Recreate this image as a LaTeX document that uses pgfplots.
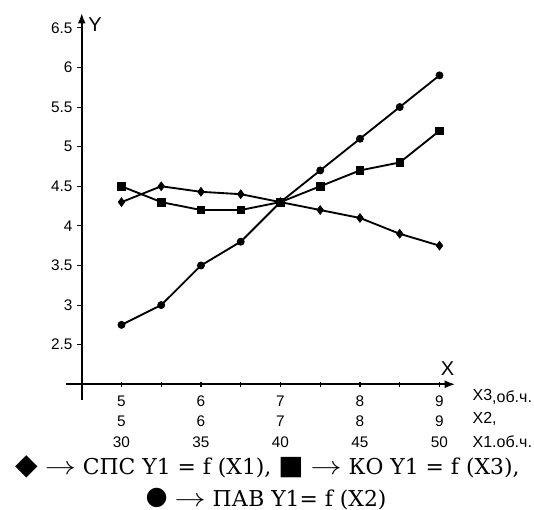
\documentclass[border=0pt]{standalone}
\usepackage{pgfplots}
\pgfplotsset{compat=1.18}
\usepackage{fontspec}
\setmainfont{Liberation Sans}
\newfontfamily\legfont{DejaVu Serif}
\newfontfamily\symfont{DejaVu Sans}
\usetikzlibrary{arrows.meta}
\newcommand{\arr}{\scalebox{1.35}[1.1]{$\rightarrow$}}

\begin{document}
\begin{tikzpicture}
\begin{axis}[
 x=59.625pt, y=59.4pt,
 xmin=4.5, xmax=9.2, ymin=2, ymax=6.7,
 axis lines=left,
 axis line style={draw=none},
 clip=false,
 xtick={5,5.5,...,9},
 xticklabels={{5\\5\\30},{},{6\\6\\35},{},{7\\7\\40},{},{8\\8\\45},{},{9\\9\\50}},
 ytick={2.5,3,...,6.5},
 yticklabels={2.5,3,3.5,4,4.5,5,5.5,6,6.5},
 tick align=outside,
 major tick length=3.5pt,
 tick style={black, line width=0.8pt},
 x tick style={yshift=1.75pt},
 xticklabel style={align=center, font=\fontsize{11.5}{15.4}\selectfont, anchor=north, yshift=-1.5pt},
 yticklabel style={font=\fontsize{11.5}{12}\selectfont},
 /pgf/number format/assume math mode=true,
]
\addplot[black, line width=1.4pt, mark=diamond*, mark size=3.3pt, mark options={solid, line width=0.5pt}]
 coordinates {(5,4.3)(5.5,4.5)(6,4.43)(6.5,4.4)(7,4.3)(7.5,4.2)(8,4.1)(8.5,3.9)(9,3.75)};
\addplot[black, line width=1.4pt, mark=square*, mark size=2.8pt, mark options={solid, line width=0.5pt}]
 coordinates {(5,4.5)(5.5,4.3)(6,4.2)(6.5,4.2)(7,4.3)(7.5,4.5)(8,4.7)(8.5,4.8)(9,5.2)};
\addplot[black, line width=1.4pt, mark=*, mark size=2.7pt, mark options={solid, line width=0.5pt}]
 coordinates {(5,2.75)(5.5,3.0)(6,3.5)(6.5,3.8)(7,4.3)(7.5,4.7)(8,5.1)(8.5,5.5)(9,5.9)};

\draw[black, line width=1.7pt, -{Latex[length=8pt,width=6pt]}] (axis cs:4.3,2) -- (axis cs:9.2,2);
\draw[black, line width=1.7pt, -{Latex[length=8pt,width=6pt]}] (axis cs:4.5,1.8) -- (axis cs:4.5,6.69);

\node[font=\fontsize{15}{16}\selectfont] at (axis cs:4.667,6.537) {Y};
\node[font=\fontsize{15}{16}\selectfont] at (axis cs:9.10,2.20) {X};

\node[anchor=west, font=\fontsize{12}{13}\selectfont] at (axis cs:9.358,1.84) {X3\raisebox{-2pt}{,об.ч.}};
\node[anchor=west, font=\fontsize{12}{13}\selectfont] at (axis cs:9.358,1.562) {X2,};
\node[anchor=west, font=\fontsize{12}{13}\selectfont] at (axis cs:9.358,1.272) {X1.об.ч.};

\node[anchor=base, font=\legfont\fontsize{16.4}{18}\selectfont] at (axis cs:6.836,0.855)
 {{\symfont\fontsize{22}{22}\selectfont ◆} \arr\ СПС Y1 = f (X1), {\symfont\fontsize{20}{20}\selectfont ■} \arr\ КО Y1 = f (X3),};
\node[anchor=base, font=\legfont\fontsize{16.4}{18}\selectfont] at (axis cs:6.818,0.46)
 {\raisebox{1.5pt}{\symfont\fontsize{19}{19}\selectfont ●} \arr\ ПАВ Y1= f (X2)};

\coordinate (bbl) at (axis cs:3.472,0.413);
\coordinate (btr) at (axis cs:10.189,6.852);
\end{axis}
\pgfresetboundingbox
\useasboundingbox (bbl) rectangle (btr);
\end{tikzpicture}
\end{document}
